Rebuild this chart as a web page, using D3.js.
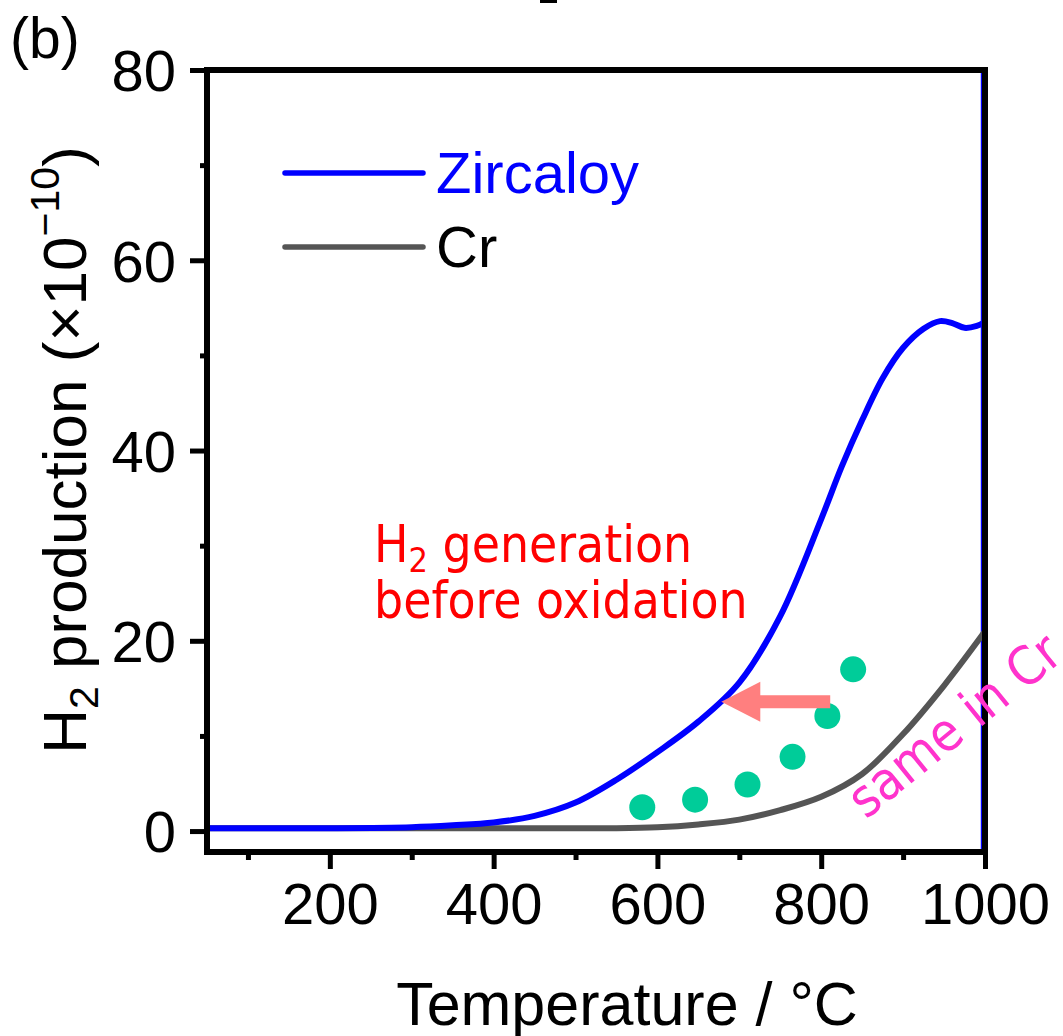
<!DOCTYPE html>
<html><head><meta charset="utf-8">
<script src="https://cdn.jsdelivr.net/npm/d3@7"></script>
<style>body{margin:0;background:#fff}</style>
</head><body>
<svg id="chart" width="1063" height="1036"></svg>
<script>
// ---- data ----
const xTicks = [200, 400, 600, 800, 1000];
const xMinorTicks = [100, 300, 500, 700, 900];
const yTicks = [0, 20, 40, 60, 80];
const yMinorTicks = [10, 30, 50, 70];

const zircaloyT  = [50, 100, 200, 300, 350, 400, 450, 500, 550, 600, 650, 700, 750, 800, 825, 850, 875, 900, 925, 945, 960, 975, 990, 1000];
const zircaloyH2 = [0.3, 0.3, 0.3, 0.4, 0.6, 0.9, 1.6, 3.0, 5.4, 8.3, 11.5, 15.6, 22.6, 32.8, 38.3, 43.2, 47.6, 50.8, 52.8, 53.6, 53.4, 52.9, 53.1, 53.5];

const crT  = [50, 300, 550, 600, 650, 700, 750, 800, 850, 900, 950, 1000];
const crH2 = [0.3, 0.3, 0.3, 0.4, 0.7, 1.2, 2.2, 3.6, 6.0, 10.2, 15.3, 21];

const dotT  = [581.5, 646, 710, 765, 807.5, 839];
const dotH2 = [2.5, 3.3, 4.9, 7.8, 12.1, 17.0];

const arrowFrom = [811, 13.6];
const arrowTo   = [678, 13.6];

const legendNames = ["Zircaloy", "Cr"];

// ---- layout ----
const svg = d3.select("#chart");
const L = 207, R = 985, T = 70, B = 852;
const x = d3.scaleLinear().domain([50, 1000]).range([L, R]);
const y = d3.scaleLinear().domain([-2.2, 80]).range([B, T]);
const font = "'Liberation Sans', Arial, Helvetica, sans-serif";
const annFont = "'DejaVu Sans Condensed', 'DejaVu Sans', sans-serif";

// thin blue line along right edge
svg.append("line").attr("x1", x(1000) - 3.5).attr("x2", x(1000) - 3.5)
  .attr("y1", y(80)).attr("y2", y(-2.2)).attr("stroke", "#0000ff").attr("stroke-width", 1.5);

// curves
const line = d3.line().x(d => x(d[0])).y(d => y(d[1])).curve(d3.curveCatmullRom.alpha(0.5));
svg.append("path").datum(crT.map((t, i) => [t, crH2[i]]))
  .attr("d", line).attr("fill", "none").attr("stroke", "#555555").attr("stroke-width", 6);
svg.append("path").datum(zircaloyT.map((t, i) => [t, zircaloyH2[i]]))
  .attr("d", line).attr("fill", "none").attr("stroke", "#0000ff").attr("stroke-width", 6);

// dots
svg.selectAll("circle.dot").data(dotT.map((t, i) => [t, dotH2[i]])).enter()
  .append("circle").attr("class", "dot")
  .attr("cx", d => x(d[0])).attr("cy", d => y(d[1])).attr("r", 13)
  .attr("fill", "#00cc99");

// arrow
{
  const x0 = x(arrowFrom[0]), x1 = x(arrowTo[0]), yc = y(arrowTo[1]);
  const hw = 6.5, headL = 39, headW = 20;
  const pts = [[x0, yc - hw], [x1 + headL, yc - hw], [x1 + headL, yc - headW], [x1, yc],
               [x1 + headL, yc + headW], [x1 + headL, yc + hw], [x0, yc + hw]];
  svg.append("polygon").attr("points", pts.map(p => p.join(",")).join(" ")).attr("fill", "#ff7f7f");
}

// frame
svg.append("rect").attr("x", L).attr("y", T).attr("width", R - L).attr("height", B - T)
  .attr("fill", "none").attr("stroke", "#000").attr("stroke-width", 6);

// axes
const xAx = svg.append("g").attr("transform", `translate(0,${B})`)
  .call(d3.axisBottom(x).tickValues(xTicks).tickSize(17).tickPadding(14).tickFormat(d3.format("d")));
const xMin = svg.append("g").attr("transform", `translate(0,${B})`)
  .call(d3.axisBottom(x).tickValues(xMinorTicks).tickSize(8).tickFormat(""));
const yAx = svg.append("g").attr("transform", `translate(${L},0)`)
  .call(d3.axisLeft(y).tickValues(yTicks).tickSize(17).tickPadding(14));
const yMin = svg.append("g").attr("transform", `translate(${L},0)`)
  .call(d3.axisLeft(y).tickValues(yMinorTicks).tickSize(7).tickFormat(""));
[xAx, xMin, yAx, yMin].forEach(g => {
  g.select(".domain").remove();
  g.selectAll(".tick line").attr("stroke", "#000").attr("stroke-width", 5);
  g.selectAll("text").attr("font-family", font).attr("font-size", 58).attr("fill", "#000");
});
yAx.selectAll("text").attr("dy", "0.36em");

// legend
const legColors = ["#0000ff", "#555555"];
const legText = ["#0000ff", "#000000"];
legendNames.forEach((n, i) => {
  const ly = 173 + i * 74;
  svg.append("line").attr("x1", 285).attr("x2", 423).attr("y1", ly).attr("y2", ly)
    .attr("stroke", legColors[i]).attr("stroke-width", 5.5).attr("stroke-linecap", "round");
  svg.append("text").attr("x", 436).attr("y", ly + 20).attr("font-family", font)
    .attr("font-size", 58).attr("fill", legText[i]).text(n);
});

// axis titles
svg.append("text").attr("x", 627).attr("y", 1025).attr("text-anchor", "middle")
  .attr("font-family", font).attr("font-size", 61).text("Temperature / °C");

const yl = svg.append("text").attr("transform", "translate(86,450) rotate(-90)")
  .attr("text-anchor", "middle").attr("font-family", font).attr("font-size", 62);
yl.append("tspan").text("H");
yl.append("tspan").attr("font-size", 41).attr("dy", 12).text("2");
yl.append("tspan").attr("dy", -12).text(" production (×10");
yl.append("tspan").attr("font-size", 41).attr("dy", -27).text("−10");
yl.append("tspan").attr("dy", 27).text(")");

// panel label
svg.append("text").attr("x", 10).attr("y", 58).attr("font-family", font).attr("font-size", 57).text("(b)");
// fragment of cropped text at top
svg.append("rect").attr("x", 540).attr("y", 0).attr("width", 17).attr("height", 3).attr("fill", "#000");

// annotations
const ann = svg.append("text").attr("font-family", annFont).attr("font-size", 51).attr("fill", "#ff0000");
ann.append("tspan").attr("x", 374).attr("y", 562).text("H");
ann.append("tspan").attr("font-size", 34).attr("dy", 10).text("2");
ann.append("tspan").attr("dy", -10).text(" generation");
svg.append("text").attr("x", 374).attr("y", 618).attr("font-family", annFont)
  .attr("font-size", 51).attr("fill", "#ff0000").text("before oxidation");

svg.append("text").attr("transform", "translate(866,820) rotate(-39)")
  .attr("font-family", annFont).attr("font-size", 53).attr("fill", "#ff33cc").text("same in Cr");
</script>
</body></html>
